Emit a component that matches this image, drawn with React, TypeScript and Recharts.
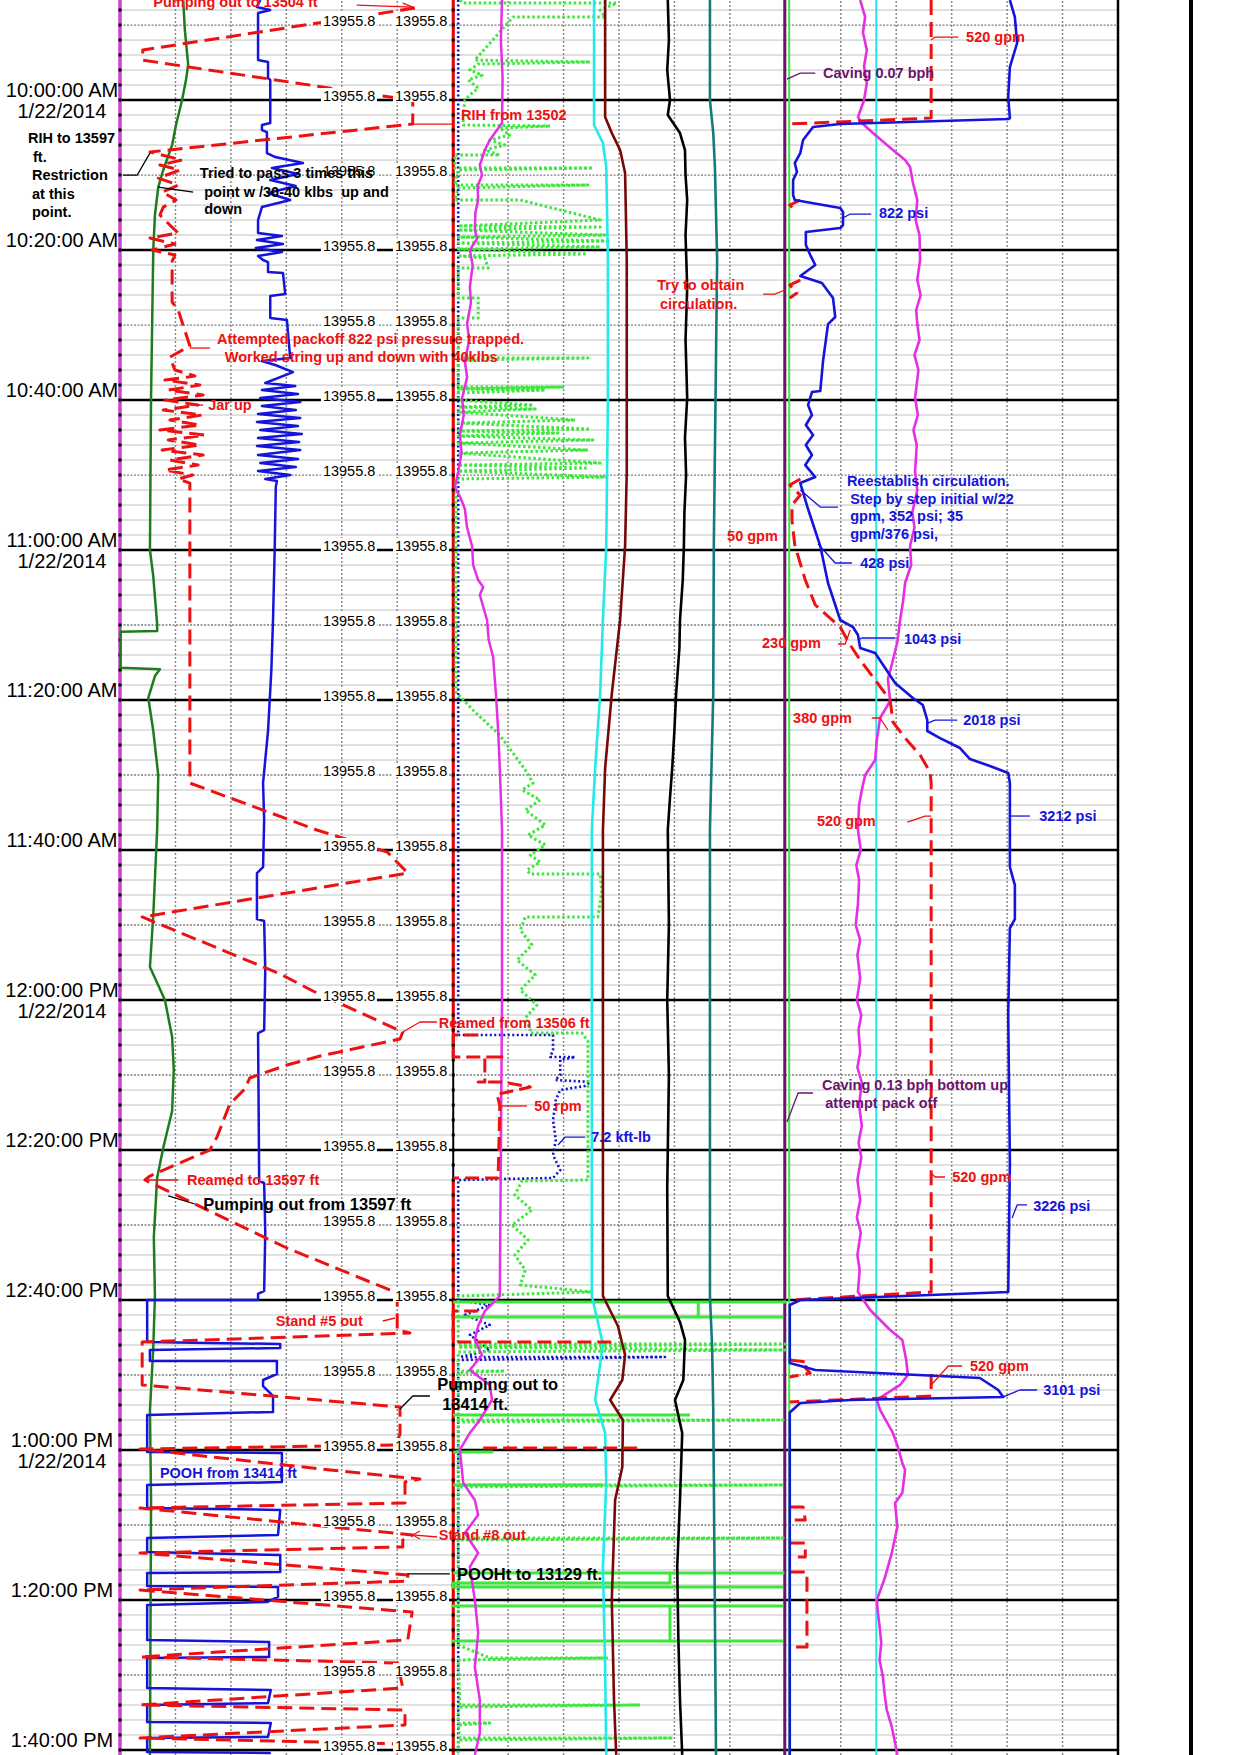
import React from "react";
import { ScatterChart, Scatter, XAxis, YAxis, ReferenceLine } from "recharts";

// [minutes after 10:00 AM, position across the three tracks in grid divisions (0-6, 6-12, 12-18)]
type Pt = [number, number];

const T_MIN = -13.34;
const T_MAX = 220.67;
const FONT = '"Liberation Sans", Arial, Helvetica, sans-serif';

const RED = "#ee1111";
const BLUE = "#1414dc";
const BLACK = "#000000";
const PURPLE = "#6b136b";
const MAGENTA = "#e52fe5";
const LIME = "#3be83b";

const timeTicks = [0, 20, 40, 60, 80, 100, 120, 140, 160, 180, 200, 220];
const timeLabels = [
  "10:00:00 AM", "10:20:00 AM", "10:40:00 AM", "11:00:00 AM", "11:20:00 AM", "11:40:00 AM",
  "12:00:00 PM", "12:20:00 PM", "12:40:00 PM", "1:00:00 PM", "1:20:00 PM", "1:40:00 PM",
];
const dateTicks = [0, 60, 120, 180];
const dateLabel = "1/22/2014";

const depthTicks = [-10, 0, 10, 20, 30, 40, 50, 60, 70, 80, 90, 100, 110, 120, 130, 140, 150, 160, 170, 180, 190, 200, 210, 220];
const bitDepthLabels = [
  "13539.4", "13502.6", "13591.3", "13591.6", "13585.5", "13583.8", "13592.5", "13583.1",
  "13583.1", "13583.1", "13583.1", "13521.5", "13593.2", "13529.9", "13555.8", "13576.1",
  "13569.4", "13508.4", "13505.0", "13413.6", "13259.6", "13194.9", "13225.1", "13416.7",
];
const holeDepth = "13955.8";

// ---------- track 1 ----------
const t1Green: Pt[] = [
  [-13.33, 1.14], [-9.33, 1.17], [-4.67, 1.23], [-2.67, 1.19], [0, 1.12], [3.33, 1.01], [6, 0.94],
  [9.33, 0.78], [11.6, 0.69], [15.33, 0.63], [20, 0.6], [39.7, 0.56], [60, 0.54], [63.5, 0.6],
  [69.9, 0.67], [70.8, 0.67], [70.9, 0.01], [75.7, 0.01], [75.9, 0.72], [76.8, 0.63], [79.7, 0.51],
  [84.1, 0.6], [90, 0.69], [97.3, 0.67], [108.7, 0.6], [115.6, 0.54], [120, 0.81], [124.9, 0.94],
  [129.3, 0.97], [134.8, 0.94], [139.7, 0.78], [143.7, 0.67], [151.6, 0.61], [159.5, 0.63],
  [166.4, 0.6], [174.7, 0.54], [186.7, 0.56], [220.66, 0.54],
];

const t1Blue: Pt[] = [
  [-13.33, 2.53], [-12.4, 2.47], [-12, 2.71], [-11.6, 2.49], [-5.33, 2.49], [-5.07, 2.67], [-2.93, 2.67],
  [-2.67, 2.71], [3.07, 2.71], [3.33, 2.56], [4, 2.56], [4.27, 2.65], [7.07, 2.65], [7.6, 2.8],
  [8.4, 3.3], [9.07, 2.74], [9.87, 3.21], [10.67, 2.71], [11.47, 3.17], [12.4, 2.67], [13.33, 3.07],
  [14.27, 2.56], [16, 2.49], [17.73, 2.49], [18.13, 2.92], [18.67, 2.47], [19.2, 2.94], [19.73, 2.45],
  [20.27, 2.92], [20.8, 2.49], [21.33, 2.58], [21.6, 2.67], [22.93, 2.67], [23.07, 2.94], [25.87, 2.98],
  [26.13, 2.71], [29.07, 2.71], [29.33, 3.01], [34.4, 3.07], [34.8, 2.56], [35.33, 2.8], [36.27, 3.12],
  [37.73, 2.62], [38.13, 3.16], [38.67, 2.56], [39.2, 3.21], [39.73, 2.53], [40.27, 3.25], [40.8, 2.56],
  [41.33, 3.17], [41.87, 2.49], [42.4, 3.25], [42.93, 2.47], [43.47, 3.21], [44, 2.53], [44.53, 3.28],
  [45.07, 2.49], [45.6, 3.23], [46.13, 2.47], [46.67, 3.25], [47.33, 2.49], [47.87, 3.21], [48.4, 2.53],
  [48.93, 3.17], [49.47, 2.49], [50, 3.07], [50.53, 2.62], [50.8, 2.83], [51.6, 2.81], [60, 2.79],
  [69.33, 2.76], [76, 2.73], [84.13, 2.67], [91.07, 2.58], [96, 2.6], [102.27, 2.58], [103.07, 2.47],
  [109.2, 2.47], [109.47, 2.6], [116, 2.62], [124, 2.6], [124.4, 2.49], [134, 2.5], [144.13, 2.51],
  [144.4, 2.6], [151, 2.62], [158.8, 2.6], [159.2, 2.49], [160, 2.49], [160, 0.49],
  [165.6, 0.49], [165.87, 2.89], [166.4, 2.89], [166.67, 0.54], [168.13, 0.54], [168.13, 2.83],
  [169.87, 2.83], [170.67, 2.58], [171.47, 2.58], [172.8, 2.76], [174.93, 2.76], [175.33, 0.49],
  [180.27, 0.49], [180.4, 2.92], [184.27, 2.92], [184.67, 0.49], [187.73, 0.49], [188, 2.89],
  [191.33, 2.85], [191.73, 0.49], [193.6, 0.49], [194, 2.89], [196.27, 2.89], [196.4, 0.49],
  [198.13, 0.49], [198.27, 2.85], [199.6, 2.85], [200.27, 2.65], [200.67, 0.49], [205.33, 0.49],
  [205.6, 2.69], [207.6, 2.69], [207.73, 0.49], [211.73, 0.49], [212, 2.72], [213.73, 2.67], [214, 0.49],
  [216.27, 0.49], [216.4, 2.72], [218.27, 2.67], [218.4, 0.49], [220.27, 0.49], [220.4, 2.72],
];

const t1RedDash: Pt[] = [
  [-12.27, 5.32], [-6.67, 0.41], [-5.33, 0.41], [-0.4, 4.87], [0, 5.28], [3.2, 5.28], [6.93, 0.54],
  [8, 1.12], [8.67, 0.72], [9.33, 1.08], [10.4, 0.69], [11.33, 1.05], [12.27, 0.76], [13.33, 1.01],
  [14.27, 0.78], [15.33, 0.72], [16.67, 0.9], [17.73, 1.05], [18.4, 0.54], [19.2, 0.99], [20, 0.58],
  [20.67, 0.99], [21.47, 0.94], [26.93, 0.94], [28, 1.05], [32.8, 1.26], [34.27, 0.9], [36, 0.99],
  [36.8, 1.35], [37.33, 0.81], [38, 1.44], [38.67, 0.87], [39.33, 1.5], [40, 0.81], [40.67, 1.41],
  [41.33, 0.78], [42, 1.48], [42.67, 0.9], [43.33, 1.44], [44, 0.72], [44.67, 1.53], [45.33, 0.87],
  [46, 1.44], [46.67, 0.76], [47.33, 1.5], [48, 0.9], [48.67, 1.41], [49.33, 0.81], [50, 1.31],
  [50.53, 1.05], [51.07, 1.26], [91.07, 1.26], [97.33, 3.55], [100.27, 4.82], [103.07, 5.19],
  [108.93, 0.4], [116.53, 2.89], [118.8, 3.48], [124.27, 5.1], [125.2, 5.05], [127.47, 3.61],
  [128.67, 3.01], [130.4, 2.34], [131.87, 2.25], [133.87, 1.98], [138.27, 1.75], [140, 1.62],
  [143.47, 0.54], [144, 0.45], [153.07, 3.01], [157.2, 4.38], [158.53, 4.82], [158.93, 5.0], [164, 5.0],
  [164.4, 5.23], [165.6, 0.4], [171.33, 0.4], [174.27, 5.05], [177.93, 5.05], [179.33, 4.96],
  [179.87, 0.36], [182.67, 3.79], [183.87, 5.41], [184.27, 5.14], [187.07, 5.14], [187.73, 0.36],
  [191.33, 5.28], [192, 5.1], [192.93, 5.1], [193.73, 0.36], [196.67, 5.19], [197.47, 5.19],
  [198.67, 0.36], [201.6, 5.27], [205.33, 5.19], [207.6, 0.36], [208.4, 5.01], [211.73, 5.1], [214, 0.36],
  [214.67, 5.14], [216.67, 5.14], [218.4, 0.36], [219.33, 5.9], [220.66, 5.9],
];

// ---------- track 2 ----------
const t2GreenDots: Pt[] = [
  [-13.33, 6.13], [-12.93, 6.19], [-12.93, 8.96], [-12, 8.66], [-11.07, 8.75], [-11.07, 7.09],
  [-5.33, 6.4], [-5.07, 8.48], [-4.8, 6.46], [-4, 6.31], [-3.33, 6.53], [-2.67, 6.28], [-1.6, 6.46],
  [-0.67, 6.31], [0, 6.22], [2.67, 6.19], [3.33, 6.19], [3.47, 7.76], [3.73, 6.85], [4.67, 7.03],
  [5.33, 6.67], [6, 6.94], [6.67, 6.58], [7.33, 6.85], [7.33, 6.04], [9.07, 6.04], [9.07, 8.53],
  [9.33, 6.1], [11.33, 6.04], [11.33, 8.44], [11.73, 6.1], [13.33, 6.04], [13.33, 7.22], [16, 8.66],
  [16.8, 6.1], [16.93, 8.66], [17.33, 6.1], [18, 8.75], [18.27, 6.1], [18.8, 8.84], [19.07, 6.1],
  [19.6, 8.66], [19.87, 6.1], [20.53, 8.42], [20.8, 6.13], [21.07, 6.58], [22.4, 6.64], [22.4, 6.1],
  [26.4, 6.1], [26.4, 6.46], [29.07, 6.46], [29.07, 6.1], [34.4, 6.1], [34.4, 8.44], [34.67, 6.1],
  [38.27, 6.1], [38.27, 7.99], [38.53, 6.1], [38.67, 7.67], [39.07, 6.1], [40, 6.1], [40.67, 7.45],
  [40.93, 6.1], [41.2, 7.49], [41.6, 6.1], [42.67, 8.21], [43.07, 6.1], [43.87, 8.48], [44.13, 6.1],
  [44.4, 7.9], [44.8, 6.1], [45.33, 8.53], [45.73, 6.1], [46.67, 8.44], [47.07, 6.1], [48.4, 8.66],
  [48.67, 6.1], [49.07, 8.44], [49.47, 6.1], [50.27, 8.78], [50.53, 6.06], [78.93, 6.06], [81.6, 6.4],
  [84.67, 6.85], [89.33, 7.31], [91.07, 7.45], [92, 7.25], [93.33, 7.58], [94.67, 7.31], [96.67, 7.67],
  [98, 7.36], [99.33, 7.67], [100.67, 7.4], [101.6, 7.58], [102.67, 7.34], [103.2, 7.4], [103.2, 8.66],
  [105.47, 8.69], [108.93, 8.62], [108.93, 7.31], [110.67, 7.22], [112.67, 7.43], [114.67, 7.16],
  [116.67, 7.49], [118.67, 7.22], [120.67, 7.52], [122.4, 7.31], [124, 7.4], [124.4, 7.4], [124.4, 8.33],
  [125.47, 8.44], [144, 8.44], [144.13, 7.25], [146, 7.12], [148, 7.43], [150, 7.07], [152, 7.36],
  [154, 7.12], [156, 7.31], [158, 7.22], [158.93, 8.51], [159.47, 6.1], [165.87, 6.1], [165.87, 12.0],
  [166.27, 6.1], [166.67, 12.0], [166.93, 6.1], [169.47, 6.1], [169.47, 6.94], [169.73, 6.1], [176, 6.1],
  [176, 11.96], [176.27, 6.1], [184.67, 6.1], [184.67, 11.96], [184.93, 6.1], [191.73, 6.1],
  [191.73, 11.96], [192, 6.1], [206, 6.1], [207.73, 6.67], [207.73, 8.8], [208, 6.1], [214, 6.13],
  [214, 9.38], [214.27, 6.1], [216.4, 6.1], [216.4, 6.67], [216.67, 6.1], [218.4, 6.13], [218.4, 9.97],
  [218.67, 6.1], [220.66, 6.1],
];

const t2GreenBars: Pt[][] = [
  [[160.27, 6.01], [160.27, 12.0], [160.27, 10.43], [162.27, 10.43], [162.27, 6.01], [162.27, 11.96]],
  [[175.33, 6.01], [175.33, 10.28]],
  [[180.27, 6.01], [180.27, 6.73]],
  [[184.67, 6.01], [184.67, 8.71]],
  [[196.4, 6.01], [196.4, 11.96], [196.4, 9.92], [197.73, 9.92], [197.73, 6.01], [198.27, 6.01], [198.27, 11.96]],
  [[200.8, 11.96], [200.8, 6.01], [200.8, 9.92], [205.47, 9.92], [205.47, 6.01], [205.47, 11.96]],
];

const t2BlueDots: Pt[] = [
  [-13.33, 6.1], [124.67, 6.1], [124.67, 7.81], [126.67, 7.81], [127.6, 7.76], [127.6, 8.21], [128, 7.94],
  [130, 7.94], [130.67, 7.85], [130.93, 8.48], [131.47, 8.38], [132, 7.94], [133.33, 7.86], [136, 7.81],
  [138.67, 7.86], [140.67, 7.81], [142.67, 7.94], [143.73, 7.81], [144, 6.1], [160, 6.1], [160.67, 6.67],
  [162, 6.22], [163.33, 6.67], [164.67, 6.31], [166.67, 6.67], [167.6, 6.13], [167.6, 9.83], [168, 6.1],
  [220.66, 6.1],
];

const t2Magenta: Pt[] = [
  [-13.33, 6.89], [-8, 6.87], [-3, 6.9], [3.07, 6.89], [5.33, 6.67], [6.67, 6.58], [8.67, 6.49],
  [10, 6.53], [11.5, 6.45], [13.33, 6.46], [15, 6.41], [17.33, 6.4], [18.5, 6.44], [20, 6.31],
  [22, 6.36], [24.93, 6.31], [27, 6.33], [29.87, 6.26], [32, 6.3], [34.8, 6.22], [37, 6.26],
  [39.73, 6.17], [42, 6.2], [44.67, 6.13], [47, 6.16], [49.6, 6.1], [51.6, 6.04], [53, 6.14],
  [54.53, 6.22], [57, 6.26], [59.47, 6.35], [62, 6.37], [64, 6.46], [64.93, 6.55], [66, 6.49],
  [69.33, 6.62], [72, 6.65], [74.27, 6.73], [79.2, 6.78], [84, 6.82], [89.07, 6.85], [97.33, 6.89],
  [120, 6.89], [159.47, 6.85], [161.47, 6.58], [163.47, 6.46], [165.33, 6.4], [167.33, 6.53],
  [169.33, 6.31], [171.33, 6.67], [173.33, 6.71], [176, 6.49], [177.73, 6.31], [180, 6.13],
  [184.4, 6.19], [186.67, 6.4], [188.67, 6.46], [191.07, 6.22], [193.73, 6.46], [195.6, 6.31],
  [200, 6.4], [204.4, 6.46], [208.93, 6.4], [213.33, 6.49], [217.73, 6.49], [220.66, 6.4],
];

const t2Cyan: Pt[] = [
  [-13.33, 8.55], [3.33, 8.55], [5.73, 8.71], [8.93, 8.77], [21.33, 8.8], [39.73, 8.8], [59.47, 8.77],
  [69.33, 8.71], [79.2, 8.66], [89.07, 8.57], [97.33, 8.51], [159.47, 8.51], [165.87, 8.71],
  [173.33, 8.57], [177.73, 8.75], [184.4, 8.77], [195.6, 8.71], [208.93, 8.75], [220.66, 8.77],
];

const t2Maroon: Pt[] = [
  [-13.33, 8.75], [2.27, 8.75], [4.4, 8.87], [6.67, 9.02], [9.73, 9.11], [21.33, 9.14], [49.6, 9.14],
  [59.47, 9.11], [69.33, 9.02], [79.2, 8.87], [89.07, 8.75], [97.33, 8.71], [159.47, 8.71],
  [163.47, 8.98], [167.33, 9.11], [170.67, 9.06], [173.33, 8.84], [176, 9.07], [182.27, 9.06],
  [186.67, 8.93], [200, 8.87], [213.33, 8.91], [220.66, 8.95],
];

const t2Black: Pt[] = [
  [-13.33, 9.88], [-8, 9.9], [-4, 9.87], [0, 9.92], [2, 9.88], [4.4, 10.1], [6.67, 10.19], [10, 10.2],
  [13.33, 10.23], [18, 10.2], [25, 10.23], [32, 10.2], [39.73, 10.23], [45, 10.19], [50, 10.21],
  [55, 10.18], [59.47, 10.17], [64, 10.15], [69.33, 10.1], [73, 10.09], [79.2, 10.03], [84, 10.0],
  [89.07, 9.96], [93, 9.92], [97.33, 9.88], [110, 9.9], [120, 9.87], [130, 9.9], [145, 9.87],
  [159.47, 9.88], [162.93, 10.1], [165.33, 10.19], [170.67, 10.16], [173.33, 10.01], [177.73, 10.14],
  [186.67, 10.1], [195.6, 10.05], [205, 10.07], [213.33, 10.1], [220.66, 10.14],
];

const t2Teal: Pt[] = [
  [-13.33, 10.64], [0, 10.64], [4.4, 10.7], [8.93, 10.73], [21.33, 10.77], [59.47, 10.71], [79.2, 10.7],
  [97.33, 10.64], [159.47, 10.64], [166.4, 10.68], [174.67, 10.7], [220.66, 10.75],
];

const t2RedFlow: Pt[] = [
  [124.67, 6.46], [124.67, 6.01], [127.6, 6.01], [127.6, 6.94], [127.6, 6.58], [130.93, 6.58],
  [130.93, 6.46], [130.93, 6.91], [131.6, 7.4], [132.4, 6.91], [132.53, 6.8], [134.13, 6.85],
  [143.73, 6.82], [143.73, 6.01],
];
const t2RedBits: Pt[][] = [
  [[161.47, 6.46], [161.47, 6.01], [165.6, 6.01], [165.6, 8.96]],
  [[179.73, 6.55], [179.73, 9.38]],
];

// ---------- track 3 ----------
const t3Blue: Pt[] = [
  [-13.33, 16.05], [-11.07, 16.14], [-7.6, 16.18], [-4.4, 16.05], [-0.4, 16.02], [2.4, 16.05],
  [2.53, 16.02], [3.2, 12.99], [3.6, 12.5], [5.33, 12.32], [7.07, 12.27], [8.4, 12.17], [9.6, 12.21],
  [10.67, 12.14], [12.67, 12.14], [13.33, 12.17], [14.4, 12.99], [14.93, 13.04], [16.67, 13.04],
  [17.07, 12.99], [17.6, 12.37], [19.33, 12.37], [20.67, 12.45], [22, 12.54], [23.47, 12.27],
  [24.4, 12.66], [26.4, 12.86], [28.93, 12.9], [29.87, 12.77], [34.8, 12.68], [38.8, 12.63],
  [38.93, 12.48], [40.67, 12.41], [42, 12.48], [43.33, 12.37], [44.67, 12.5], [46, 12.37], [47.33, 12.48],
  [48.67, 12.36], [50.27, 12.54], [51.07, 12.27], [54.53, 12.41], [59.47, 12.63], [64.4, 12.77],
  [69.33, 12.99], [70.27, 13.22], [71.33, 13.31], [73.07, 13.35], [73.73, 13.62], [75.73, 13.8],
  [77.73, 13.98], [79.73, 14.3], [80.67, 14.48], [82.67, 14.56], [84.13, 14.56], [85.07, 14.79],
  [86.4, 15.15], [87.87, 15.33], [88.8, 15.69], [89.73, 16.02], [91.07, 16.05], [102.27, 16.05],
  [104.67, 16.14], [109.2, 16.14], [110.4, 16.05], [122, 16.02], [141.73, 16.05], [158.93, 16.02],
  [160, 12.27], [160.67, 12.08], [168.4, 12.08], [169.33, 12.54], [170.4, 15.51], [172, 15.84],
  [172.93, 15.93], [173.33, 13.17], [173.73, 12.27], [175, 12.08], [220.66, 12.08],
];

const t3Magenta: Pt[] = [
  [-13.33, 13.35], [-11.07, 13.44], [-9, 13.4], [-6.67, 13.47], [-4.5, 13.42], [-2.27, 13.47],
  [0, 13.42], [2.27, 13.31], [3.07, 13.38], [4.4, 13.58], [6.67, 13.94], [8, 14.16], [8.93, 14.25],
  [11, 14.3], [13.33, 14.38], [16, 14.35], [18, 14.42], [21.33, 14.43], [24, 14.38], [26, 14.44],
  [28, 14.36], [29.87, 14.38], [32, 14.42], [34, 14.33], [36, 14.4], [39.73, 14.34], [42, 14.39],
  [44, 14.31], [46, 14.37], [49.6, 14.34], [52, 14.38], [55, 14.29], [57, 14.33], [59.47, 14.25],
  [62, 14.27], [64.4, 14.16], [67, 14.12], [69.33, 14.07], [72.27, 14.02], [75, 13.93], [77.2, 13.85],
  [80.13, 13.89], [82.4, 13.71], [85.33, 13.65], [88, 13.62], [90, 13.44], [92, 13.38], [94, 13.33],
  [97.33, 13.31], [100, 13.36], [102, 13.28], [104, 13.33], [107.2, 13.31], [110, 13.27], [112, 13.35],
  [114, 13.3], [117.07, 13.35], [120, 13.29], [122, 13.37], [124, 13.32], [126.93, 13.35], [129, 13.3],
  [131, 13.38], [134, 13.33], [136.8, 13.38], [139, 13.32], [141, 13.37], [144, 13.3], [146.67, 13.35],
  [149, 13.29], [151, 13.36], [154, 13.3], [156, 13.34], [158.93, 13.31], [161.33, 13.53], [164, 13.89],
  [165.33, 14.11], [168, 14.18], [170, 14.21], [171.33, 14.07], [173.33, 13.65], [174.67, 13.71],
  [177.73, 13.94], [179.6, 14.03], [181.73, 14.11], [182.67, 14.16], [185.73, 14.11], [187.07, 13.98],
  [190.27, 14.02], [193.73, 13.92], [196.93, 13.8], [200, 13.65], [201.73, 13.67], [203.5, 13.7],
  [205.73, 13.73], [208, 13.7], [210.27, 13.76], [212.5, 13.79], [214.67, 13.83], [216.93, 13.92],
  [219.07, 13.98], [220.66, 14.02],
];

const t3RedFlow: Pt[][] = [
  [[-13.33, 14.63], [2.4, 14.63], [3.2, 12.05]],
  [[13.33, 12.27], [14, 12.08], [14.93, 12.21]],
  [[24, 12.27], [24.67, 12.08], [25.73, 12.21], [26.4, 12.08]],
  [
    [50.53, 12.27], [51.33, 12.08], [52.67, 12.27], [54, 12.12], [56, 12.12], [59.33, 12.17], [64, 12.36],
    [67.33, 12.54], [70.27, 12.99], [72.67, 13.17], [74.67, 13.35], [77.33, 13.62], [80, 13.89],
    [82.93, 13.94], [85.07, 14.16], [87.33, 14.43], [89.6, 14.61], [91.07, 14.63], [158.93, 14.63],
    [160, 12.08],
  ],
  [[168, 12.08], [168.27, 12.41], [169.07, 12.36], [169.73, 12.45], [170.27, 12.08]],
  [[169.87, 14.63], [172.8, 14.63], [173.6, 12.08]],
  [[187.6, 12.08], [187.6, 12.32], [189.33, 12.36], [189.33, 12.08]],
  [[192.4, 12.08], [192.4, 12.36], [194.27, 12.36], [194.27, 12.08]],
  [[196.27, 12.08], [196.27, 12.39], [206.27, 12.39], [206.27, 12.08]],
];

// ---------- annotations ----------
const notes = [
  { t: -12.4, u: 0.6, text: "Pumping out to 13504 ft", color: RED },
  { t: 5.73, u: 0, dx: -92, text: "RIH to 13597", color: BLACK },
  { t: 8.2, u: 0, dx: -87, text: "ft.", color: BLACK },
  { t: 10.67, u: 0, dx: -88, text: "Restriction", color: BLACK },
  { t: 13.13, u: 0, dx: -88, text: "at this", color: BLACK },
  { t: 15.6, u: 0, dx: -88, text: "point.", color: BLACK },
  { t: 10.4, u: 1.44, text: "Tried to pass 3 times this", color: BLACK },
  { t: 12.93, u: 1.52, text: "point w /30-40 klbs  up and", color: BLACK },
  { t: 15.2, u: 1.52, text: "down", color: BLACK },
  { t: 2.67, u: 6.15, text: "RIH from 13502", color: RED },
  { t: -2.93, u: 12.68, text: "Caving 0.07 bph", color: PURPLE },
  { t: -7.73, u: 15.26, text: "520 gpm", color: RED },
  { t: 15.73, u: 13.69, text: "822 psi", color: BLUE },
  { t: 32.53, u: 1.75, text: "Attempted packoff 822 psi pressure trapped.", color: RED },
  { t: 34.93, u: 1.89, text: "Worked string up and down with 40klbs", color: RED },
  { t: 41.33, u: 1.59, text: "Jar up", color: RED },
  { t: 25.33, u: 9.69, text: "Try to obtain", color: RED },
  { t: 27.87, u: 9.74, text: "circulation.", color: RED },
  { t: 51.47, u: 13.11, text: "Reestablish circulation.", color: BLUE },
  { t: 53.87, u: 13.17, text: "Step by step initial w/22", color: BLUE },
  { t: 56.13, u: 13.17, text: "gpm, 352 psi; 35", color: BLUE },
  { t: 58.53, u: 13.17, text: "gpm/376 psi,", color: BLUE },
  { t: 62.4, u: 13.35, text: "428 psi", color: BLUE },
  { t: 58.8, u: 10.95, text: "50 gpm", color: RED },
  { t: 73.07, u: 11.58, text: "230 gpm", color: RED },
  { t: 72.53, u: 14.14, text: "1043 psi", color: BLUE },
  { t: 83.07, u: 12.14, text: "380 gpm", color: RED },
  { t: 83.33, u: 15.21, text: "2018 psi", color: BLUE },
  { t: 96.8, u: 12.57, text: "520 gpm", color: RED },
  { t: 96.13, u: 16.58, text: "3212 psi", color: BLUE },
  { t: 123.73, u: 5.75, text: "Reamed from 13506 ft", color: RED },
  { t: 134.8, u: 7.47, text: "50 rpm", color: RED },
  { t: 138.93, u: 8.5, text: "7.2 kft-lb", color: BLUE },
  { t: 132, u: 12.66, text: "Caving 0.13 bph bottom up", color: PURPLE },
  { t: 134.4, u: 12.72, text: "attempt pack off", color: PURPLE },
  { t: 144.67, u: 1.21, text: "Reamed to 13597 ft", color: RED },
  { t: 148, u: 1.5, text: "Pumping out from 13597 ft", color: BLACK, size: 16.5 },
  { t: 144.27, u: 15.01, text: "520 gpm", color: RED },
  { t: 148.13, u: 16.47, text: "3226 psi", color: BLUE },
  { t: 163.47, u: 2.81, text: "Stand #5 out", color: RED },
  { t: 169.47, u: 15.33, text: "520 gpm", color: RED },
  { t: 172.67, u: 16.65, text: "3101 psi", color: BLUE },
  { t: 172, u: 5.72, text: "Pumping out to", color: BLACK, size: 16.5 },
  { t: 174.67, u: 5.81, text: "13414 ft.", color: BLACK, size: 16.5 },
  { t: 183.73, u: 0.72, text: "POOH from 13414 ft", color: BLUE },
  { t: 192, u: 5.75, text: "Stand #8 out", color: RED },
  { t: 197.33, u: 6.08, text: "POOHt to 13129 ft.", color: BLACK, size: 16.5 },
];

const leaders: { color: string; pts: Pt[] }[] = [
  { color: RED, pts: [[-12.67, 4.27], [-12.4, 5.28]] },
  { color: RED, pts: [[-12.93, 5.1], [-12.4, 5.28], [-11.87, 5.1]] },
  { color: BLACK, pts: [[10, 0.05], [10, 0.31], [7.07, 0.54]] },
  { color: BLACK, pts: [[12.27, 1.32], [11.6, 0.69]] },
  { color: RED, pts: [[3.2, 5.28], [3.2, 6.04]] },
  { color: PURPLE, pts: [[-2.8, 12.03], [-3.6, 12.27], [-3.6, 12.54]] },
  { color: RED, pts: [[-8, 14.63], [-8.4, 14.7], [-8.4, 15.12]] },
  { color: BLUE, pts: [[15.73, 13.04], [15.2, 13.17], [15.2, 13.55]] },
  { color: RED, pts: [[33.07, 1.26], [33.07, 1.62]] },
  { color: RED, pts: [[40.67, 1.26], [40.67, 1.5]] },
  { color: RED, pts: [[25.87, 11.6], [25.87, 11.81], [25.33, 11.99]] },
  { color: BLUE, pts: [[52, 12.27], [54.27, 12.63], [54.27, 12.95]] },
  { color: BLUE, pts: [[59.2, 12.59], [61.73, 12.9], [61.73, 13.2]] },
  { color: RED, pts: [[72.53, 12.95], [72.53, 13.08], [70.67, 13.17]] },
  { color: BLUE, pts: [[72, 13.31], [71.73, 13.38], [71.73, 13.98]] },
  { color: RED, pts: [[82.4, 13.56], [82.4, 13.71], [84, 13.85]] },
  { color: BLUE, pts: [[83.07, 14.57], [82.67, 14.7], [82.67, 15.1]] },
  { color: RED, pts: [[96.27, 14.2], [95.47, 14.52], [95.47, 14.63]] },
  { color: BLUE, pts: [[95.47, 16.05], [95.47, 16.41]] },
  { color: RED, pts: [[124.27, 5.1], [122.93, 5.41], [122.93, 5.72]] },
  { color: RED, pts: [[134.13, 6.85], [134.13, 7.34]] },
  { color: BLUE, pts: [[139.33, 7.9], [138.27, 8.03], [138.27, 8.39]] },
  { color: PURPLE, pts: [[136.27, 12.03], [132.4, 12.23], [132.4, 12.5]] },
  { color: RED, pts: [[144, 0.45], [144, 1.05]] },
  { color: BLACK, pts: [[146.13, 0.87], [147.2, 1.35]] },
  { color: RED, pts: [[142.93, 14.61], [143.6, 14.7], [143.6, 14.88]] },
  { color: BLUE, pts: [[149.07, 16.09], [147.33, 16.18], [147.33, 16.36]] },
  { color: RED, pts: [[162.8, 4.74], [162.4, 4.96]] },
  { color: RED, pts: [[171.33, 14.63], [168.8, 14.94], [168.8, 15.19]] },
  { color: BLUE, pts: [[172.93, 15.93], [172, 16.23], [172, 16.54]] },
  { color: BLACK, pts: [[174.53, 5.05], [172.8, 5.28], [172.8, 5.59]] },
  { color: RED, pts: [[191.33, 5.28], [191.6, 5.72]] },
  { color: RED, pts: [[190.8, 5.41], [191.33, 5.28], [191.87, 5.41]] },
  { color: BLACK, pts: [[196.53, 5.18], [196.53, 5.95]] },
];

// grid positions
const majorLines = timeTicks;
const midLines = depthTicks.filter((t) => t % 20 !== 0);
const minorLines: number[] = [];
for (let t = -12; t <= 220; t += 2) if (t % 10 !== 0) minorLines.push(t);
const gridDivs = [1, 2, 3, 4, 5, 7, 8, 9, 10, 11, 13, 14, 15, 16, 17];
const trackEdges: Pt[] = [[T_MIN, 0], [T_MAX, 0]];

const toData = (pts: Pt[]) => pts.map(([t, u]) => ({ t, u }));
const vLine = (u: number, from = T_MIN, to = T_MAX): Pt[] => [[from, u], [to, u]];
const blank = () => <g />;

function trace(key: string, pts: Pt[], stroke: string, width: number, dash?: string, offset?: number) {
  return (
    <Scatter
      key={key}
      yAxisId="t"
      data={toData(pts)}
      shape={blank}
      legendType="none"
      isAnimationActive={false}
      line={{
        stroke,
        strokeWidth: width,
        strokeDasharray: dash,
        strokeDashoffset: offset,
        strokeLinejoin: "round",
        fill: "none",
      }}
    />
  );
}

function NoteShape(props: any) {
  const { cx, cy, payload } = props;
  return (
    <text
      x={cx + (payload.dx || 0)}
      y={cy}
      fill={payload.color}
      fontSize={payload.size || 14.5}
      fontWeight="bold"
      fontFamily={FONT}
      style={{ whiteSpace: "pre" }}
    >
      {payload.text}
    </text>
  );
}

function HoleDepthShape(props: any) {
  const { cx, cy } = props;
  return (
    <g>
      <rect x={cx - 2} y={cy - 12} width={56} height={14} fill="#fff" />
      <text x={cx} y={cy + 1} fontSize={14.5} fontFamily={FONT} fill="#000">
        {holeDepth}
      </text>
    </g>
  );
}

function TimeTick(props: any) {
  const { y, payload } = props;
  const i = timeTicks.indexOf(payload.value);
  return (
    <g>
      <text x={62} y={y - 3} textAnchor="middle" fontSize={20} fontFamily={FONT} fill="#000">
        {timeLabels[i]}
      </text>
      {dateTicks.includes(payload.value) && (
        <text x={62} y={y + 18} textAnchor="middle" fontSize={20} fontFamily={FONT} fill="#000">
          {dateLabel}
        </text>
      )}
    </g>
  );
}

function DepthTick(props: any) {
  const { y, payload } = props;
  const i = depthTicks.indexOf(payload.value);
  return (
    <text x={1123} y={y + 1} fontSize={14.5} fontFamily={FONT} fill="#000">
      {bitDepthLabels[i]}
    </text>
  );
}

const holeDepthPoints = depthTicks.flatMap((t) => [
  { t, u: 3.66 },
  { t, u: 4.96 },
]);

export default function App() {
  return (
    <div style={{ position: "absolute", left: 0, top: 0, width: 1240, height: 1755, background: "#fff" }}>
      <div style={{ position: "absolute", left: 1189, top: 0, width: 4, height: 1755, background: "#000" }} />
      <ScatterChart width={1240} height={1755} margin={{ top: 0, right: 0, bottom: 0, left: 0 }}>
        <XAxis type="number" dataKey="u" domain={[0, 18]} hide />
        <YAxis
          yAxisId="t"
          type="number"
          dataKey="t"
          domain={[T_MIN, T_MAX]}
          reversed
          width={120}
          ticks={timeTicks}
          interval={0}
          tickLine={false}
          axisLine={false}
          tick={TimeTick}
        />
        <YAxis
          yAxisId="d"
          orientation="right"
          type="number"
          dataKey="t"
          domain={[T_MIN, T_MAX]}
          reversed
          width={122}
          ticks={depthTicks}
          interval={0}
          tickLine={false}
          axisLine={false}
          tick={DepthTick}
        />

        {minorLines.map((t) => (
          <ReferenceLine key={"mi" + t} yAxisId="t" y={t} stroke="#c2c2c2" strokeWidth={1} />
        ))}
        {midLines.map((t) => (
          <ReferenceLine key={"md" + t} yAxisId="t" y={t} stroke="#7e7e7e" strokeWidth={1.3} strokeDasharray="2 1.5" />
        ))}
        {gridDivs.map((u) => (
          <ReferenceLine key={"v" + u} yAxisId="t" x={u} stroke="#8a8a8a" strokeWidth={1.5} strokeDasharray="2 2" />
        ))}
        {majorLines.map((t) => (
          <ReferenceLine key={"mj" + t} yAxisId="t" y={t} stroke="#000" strokeWidth={2.5} />
        ))}

        {/* track borders */}
        {trace("edge1", trackEdges, "#cc44cc", 3.5)}
        {trace("edge2b", vLine(6.01), "#000", 2)}
        {trace("edge2r1", vLine(6.01, T_MIN, 127.7), "#e80000", 3)}
        {trace("edge2r2", vLine(6.01, 144, T_MAX), "#e80000", 3)}
        {trace("edge1d", trackEdges, "#000", 3, "3 12", -8.5)}
        {trace("edge2d", vLine(6.01), "#000", 3, "3 12", -8.5)}
        {trace("edge3p", vLine(11.99), PURPLE, 3)}
        {trace("edge3g", vLine(12.07), LIME, 2)}
        {trace("edge4", vLine(18), "#000", 2.5)}

        {/* track 1 */}
        {trace("t1g", t1Green, "#1d7d1d", 2.5)}
        {trace("t1b", t1Blue, BLUE, 2.5)}
        {trace("t1r", t1RedDash, RED, 3, "15 7")}

        {/* track 2 */}
        {trace("t2bd", t2BlueDots, "#1010c8", 2.6, "2 2.5")}
        {trace("t2gd", t2GreenDots, LIME, 3, "2.5 2.5")}
        {t2GreenBars.map((b, i) => trace("t2gb" + i, b, LIME, 3))}
        {trace("t2m", t2Magenta, MAGENTA, 2.5)}
        {trace("t2c", t2Cyan, "#22eaea", 2.6)}
        {trace("t2mr", t2Maroon, "#780808", 2.6)}
        {trace("t2k", t2Black, "#000", 2.6)}
        {trace("t2t", t2Teal, "#177a7a", 2.6)}
        {trace("t2rf", t2RedFlow, RED, 3, "14 6")}
        {t2RedBits.map((b, i) => trace("t2rb" + i, b, RED, 3, "14 6"))}

        {/* track 3 */}
        {trace("t3c", vLine(13.64), "#22eaea", 2)}
        {trace("t3m", t3Magenta, MAGENTA, 2.6)}
        {t3RedFlow.map((b, i) => trace("t3r" + i, b, RED, 3, "15 7"))}
        {trace("t3b", t3Blue, BLUE, 2.6)}

        {/* hole depth read-outs */}
        <Scatter yAxisId="t" data={holeDepthPoints} shape={HoleDepthShape} legendType="none" isAnimationActive={false} />

        {/* annotations */}
        {leaders.map((l, i) => trace("ld" + i, l.pts, l.color, 1.3))}
        <Scatter yAxisId="t" data={notes} shape={NoteShape} legendType="none" isAnimationActive={false} />
      </ScatterChart>
    </div>
  );
}
